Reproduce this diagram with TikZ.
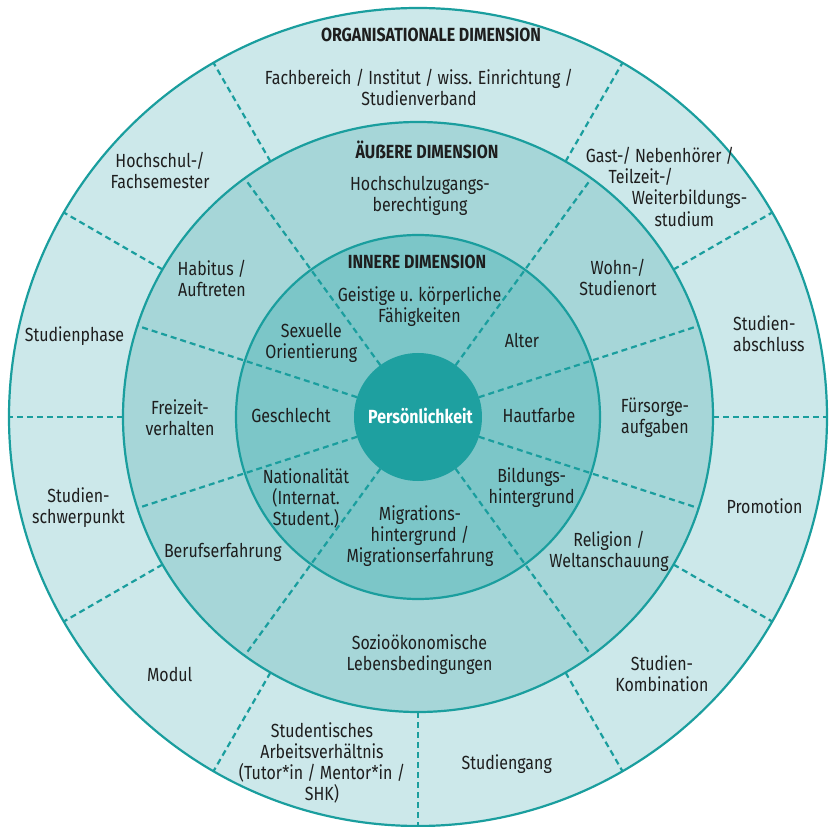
\documentclass[tikz,border=0pt]{standalone}
\usepackage{fontspec}
\setmainfont{Fira Sans}[FakeStretch=0.84]
\definecolor{ringA}{RGB}{204,232,234}
\definecolor{ringB}{RGB}{166,214,216}
\definecolor{ringC}{RGB}{124,198,200}
\definecolor{core}{RGB}{30,160,160}
\definecolor{edge}{RGB}{26,158,158}
\definecolor{ink}{RGB}{30,30,30}
\tikzset{
  lbl/.style={font=\fontsize{19}{21}\selectfont, text=ink, align=center, inner sep=0pt, anchor=base},
  lblw/.style={lbl, align=left, anchor=base west},
  ttl/.style={lbl, font=\fontsize{19}{21}\selectfont\bfseries},
  divider/.style={draw=edge, line width=2.2pt, dash pattern=on 6pt off 4pt},
  ringline/.style={draw=edge, line width=2.2pt}
}
\begin{document}
\begin{tikzpicture}[x=1pt,y=1pt]
\useasboundingbox (-418,-410) rectangle (412,417);
\coordinate (O) at (0,0);
\fill[ringA] (O) circle (409);
\fill[ringB] (O) circle (295);
\fill[ringC] (O) circle (182);
\foreach \a in {0,30,60,120,150,180,210,240,270,300,330}
  \draw[divider] (\a:295) -- (\a:409);
\foreach \a in {18,54,126,162,198,234,306,342}
  \draw[divider] (\a:64) -- (\a:295);
\fill[core] (O) circle (64);
\draw[ringline] (O) circle (409);
\draw[ringline] (O) circle (295);
\draw[ringline] (O) circle (182);
% titles
\node[ttl] (t1) at (13,375.3) {ORGANISATIONALE DIMENSION};
\node[ttl] (t2) at (9,258.7) {ÄUẞERE DIMENSION};
\node[ttl] (t3) at (-1,148) {INNERE DIMENSION};
\node[ttl, text=white] (pers) at (2.5,-6.3) {Persönlichkeit};
% outer ring (anchor = baseline of last line)
\node[lbl] (fach) at (1,311) {Fachbereich / Institut / wiss. Einrichtung /\\Studienverband};
\node[lbl] (sem) at (-258,228.7) {Hochschul-/\\Fachsemester};
\node[lbl] (phase) at (-343.5,75.3) {Studienphase};
\node[lbl] (schwer) at (-339.5,-106.3) {Studien-\\schwerpunkt};
\node[lbl] (modul) at (-248.3,-264.7) {Modul};
\node[lbl] (arbeit) at (-96,-383) {Studentisches\\Arbeitsverhältnis\\(Tutor*in / Mentor*in /\\SHK)};
\node[lbl] (gang) at (88.7,-352.3) {Studiengang};
\node[lbl] (kombi) at (244,-274.7) {Studien-\\Kombination};
\node[lbl] (promo) at (346.5,-96.3) {Promotion};
\node[lblw] (abschl) at (315,65.3) {Studien-\\abschluss};
\node[lblw] (gast1) at (167.7,254.3) {Gast-/ Nebenhörer /};
\node[lblw] (gast2) at (190.3,233.7) {Teilzeit-/};
\node[lblw] (gast3) at (213.7,212) {Weiterbildungs-};
\node[lblw] (gast4) at (236.3,190.3) {studium};
% middle ring
\node[lbl] (hzb) at (2,205.3) {Hochschulzugangs-\\berechtigung};
\node[lbl] (habitus) at (-206,120.3) {Habitus /\\Auftreten};
\node[lbl] (freizeit) at (-238,-18) {Freizeit-\\verhalten};
\node[lbl] (beruf) at (-195.2,-140.7) {Berufserfahrung};
\node[lbl] (sozio) at (1.5,-253) {Sozioökonomische\\Lebensbedingungen};
\node[lbl] (relig) at (191,-150.7) {Religion /\\Weltanschauung};
\node[lbl] (fuer) at (237,-16.3) {Fürsorge-\\aufgaben};
\node[lbl] (wohn) at (200,121) {Wohn-/\\Studienort};
% inner ring
\node[lbl] (geist) at (1.5,94) {Geistige u. körperliche\\Fähigkeiten};
\node[lbl] (sex) at (-106.7,58.7) {Sexuelle\\Orientierung};
\node[lbl] (geschl) at (-127,-6) {Geschlecht};
\node[lbl] (nat) at (-112,-108.7) {Nationalität\\(Internat.\\Student.)};
\node[lbl] (migr) at (2,-145.7) {Migrations-\\hintergrund /\\Migrationserfahrung};
\node[lbl] (bild) at (113.7,-86.3) {Bildungs-\\hintergrund};
\node[lbl] (haut) at (121,-6) {Hautfarbe};
\node[lbl] (alter) at (104,69.3) {Alter};
\end{tikzpicture}
\end{document}
